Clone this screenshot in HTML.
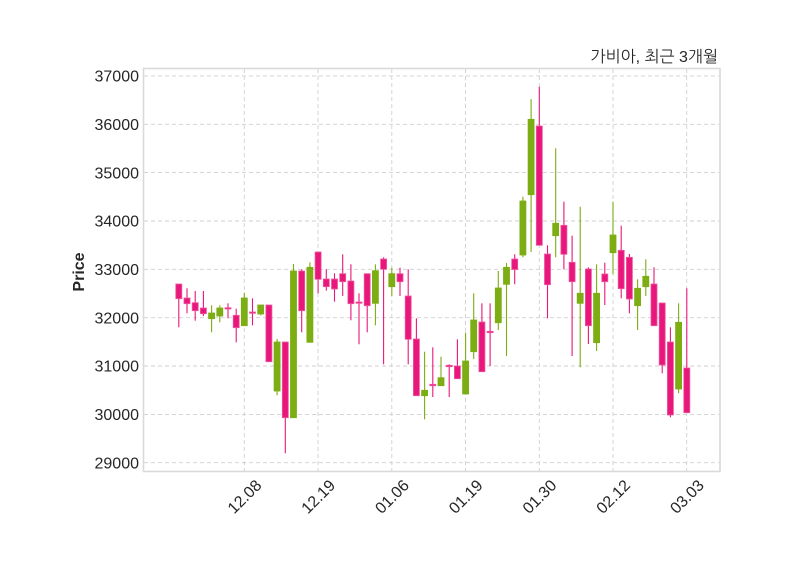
<!DOCTYPE html>
<html><head><meta charset="utf-8"><style>
html,body{margin:0;padding:0;background:#fff;}
svg{display:block;}
text{font-family:"Liberation Sans","NanumGothic","Noto Sans CJK KR",sans-serif;fill:#262626;}
.g{stroke:#cfcfcf;stroke-width:0.9;stroke-dasharray:4,3;fill:none;}
.up{fill:#7cad12;stroke:#7cad12;}
.dn{fill:#e8177c;stroke:#f0579f;}
.wu{stroke:#7cad12;stroke-width:1.1;}
.wd{stroke:#e8177c;stroke-width:1.1;}
</style></head><body>
<svg width="800" height="575" viewBox="0 0 800 575" xmlns="http://www.w3.org/2000/svg">
<rect x="0" y="0" width="800" height="575" fill="#fff"/>
<!-- grid -->
<g class="g">
<line x1="144" x2="720" y1="75.9" y2="75.9"/>
<line x1="144" x2="720" y1="124.3" y2="124.3"/>
<line x1="144" x2="720" y1="172.6" y2="172.6"/>
<line x1="144" x2="720" y1="221.0" y2="221.0"/>
<line x1="144" x2="720" y1="269.3" y2="269.3"/>
<line x1="144" x2="720" y1="317.7" y2="317.7"/>
<line x1="144" x2="720" y1="366.0" y2="366.0"/>
<line x1="144" x2="720" y1="414.4" y2="414.4"/>
<line x1="144" x2="720" y1="462.7" y2="462.7"/>
<line y1="69" y2="471" x1="244.3" x2="244.3"/>
<line y1="69" y2="471" x1="318.0" x2="318.0"/>
<line y1="69" y2="471" x1="391.8" x2="391.8"/>
<line y1="69" y2="471" x1="465.5" x2="465.5"/>
<line y1="69" y2="471" x1="539.3" x2="539.3"/>
<line y1="69" y2="471" x1="613.0" x2="613.0"/>
<line y1="69" y2="471" x1="686.7" x2="686.7"/>
</g>
<rect x="143.5" y="68.5" width="576.5" height="403" fill="none" stroke="#d9d9d9" stroke-width="1.6"/>

<!-- candles -->
<g stroke-width="0.8">
<line class="wd" x1="178.8" x2="178.8" y1="284" y2="327.3"/><rect class="dn" x="175.8" y="284" width="6" height="14.7"/>
<line class="wd" x1="187.0" x2="187.0" y1="288.3" y2="313.3"/><rect class="dn" x="184.0" y="298" width="6" height="5.7"/>
<line class="wd" x1="195.2" x2="195.2" y1="291" y2="320.7"/><rect class="dn" x="192.2" y="302.7" width="6" height="8"/>
<line class="wd" x1="203.4" x2="203.4" y1="291" y2="316"/><rect class="dn" x="200.4" y="308" width="6" height="5.7"/>
<line class="wu" x1="211.6" x2="211.6" y1="305.3" y2="332.3"/><rect class="up" x="208.6" y="313" width="6" height="5.7"/>
<line class="wu" x1="219.8" x2="219.8" y1="305.3" y2="322.3"/><rect class="up" x="216.8" y="308" width="6" height="8"/>
<line class="wd" x1="228.0" x2="228.0" y1="303.3" y2="318.3"/><rect class="dn" x="225.0" y="307.7" width="6" height="1.3"/>
<line class="wd" x1="236.2" x2="236.2" y1="308.7" y2="342.3"/><rect class="dn" x="233.2" y="315.3" width="6" height="12.4"/>
<line class="wu" x1="244.3" x2="244.3" y1="292.7" y2="325.7"/><rect class="up" x="241.3" y="298" width="6" height="27.7"/>
<line class="wd" x1="252.5" x2="252.5" y1="298.3" y2="325.3"/><rect class="dn" x="249.5" y="312" width="6" height="1.3"/>
<line class="wu" x1="260.7" x2="260.7" y1="305" y2="315.3"/><rect class="up" x="257.7" y="305" width="6" height="9"/>
<line class="wd" x1="268.9" x2="268.9" y1="305" y2="361.7"/><rect class="dn" x="265.9" y="305" width="6" height="56.7"/>
<line class="wu" x1="277.1" x2="277.1" y1="339" y2="395.3"/><rect class="up" x="274.1" y="342" width="6" height="49"/>
<line class="wd" x1="285.3" x2="285.3" y1="342" y2="453.3"/><rect class="dn" x="282.3" y="342" width="6" height="75.7"/>
<line class="wu" x1="293.5" x2="293.5" y1="264" y2="417.7"/><rect class="up" x="290.5" y="271" width="6" height="146.7"/>
<line class="wd" x1="301.7" x2="301.7" y1="269.3" y2="332.3"/><rect class="dn" x="298.7" y="271" width="6" height="39.7"/>
<line class="wu" x1="309.9" x2="309.9" y1="262.3" y2="342.3"/><rect class="up" x="306.9" y="267.3" width="6" height="75"/>
<line class="wd" x1="318.1" x2="318.1" y1="252" y2="293.3"/><rect class="dn" x="315.1" y="252" width="6" height="27.3"/>
<line class="wd" x1="326.3" x2="326.3" y1="269.3" y2="290.7"/><rect class="dn" x="323.3" y="279" width="6" height="7.7"/>
<line class="wd" x1="334.5" x2="334.5" y1="273.3" y2="301.7"/><rect class="dn" x="331.5" y="279" width="6" height="10"/>
<line class="wd" x1="342.7" x2="342.7" y1="254.3" y2="296"/><rect class="dn" x="339.7" y="273.7" width="6" height="8"/>
<line class="wd" x1="350.9" x2="350.9" y1="264.3" y2="320.3"/><rect class="dn" x="347.9" y="281" width="6" height="22.7"/>
<line class="wd" x1="359.0" x2="359.0" y1="293.3" y2="344.3"/><rect class="dn" x="356.0" y="302" width="6" height="1.3"/>
<line class="wd" x1="367.2" x2="367.2" y1="273.7" y2="332.3"/><rect class="dn" x="364.2" y="273.7" width="6" height="32"/>
<line class="wu" x1="375.4" x2="375.4" y1="264.3" y2="325.3"/><rect class="up" x="372.4" y="270.7" width="6" height="32.6"/>
<line class="wd" x1="383.6" x2="383.6" y1="257.3" y2="364.3"/><rect class="dn" x="380.6" y="259" width="6" height="10.3"/>
<line class="wu" x1="391.8" x2="391.8" y1="267.7" y2="296"/><rect class="up" x="388.8" y="273.7" width="6" height="13"/>
<line class="wd" x1="400.0" x2="400.0" y1="267.7" y2="296"/><rect class="dn" x="397.0" y="273.7" width="6" height="8"/>
<line class="wd" x1="408.2" x2="408.2" y1="269.3" y2="364.3"/><rect class="dn" x="405.2" y="296" width="6" height="43.3"/>
<line class="wd" x1="416.4" x2="416.4" y1="318.3" y2="395.7"/><rect class="dn" x="413.4" y="339" width="6" height="56.7"/>
<line class="wu" x1="424.6" x2="424.6" y1="351.7" y2="419.3"/><rect class="up" x="421.6" y="390.3" width="6" height="5.4"/>
<line class="wd" x1="432.8" x2="432.8" y1="347.3" y2="397"/><rect class="dn" x="429.8" y="384.3" width="6" height="1.4"/>
<line class="wu" x1="441.0" x2="441.0" y1="356.7" y2="385.7"/><rect class="up" x="438.0" y="377.7" width="6" height="8"/>
<line class="wd" x1="449.2" x2="449.2" y1="364.3" y2="397"/><rect class="dn" x="446.2" y="365.3" width="6" height="1.4"/>
<line class="wd" x1="457.4" x2="457.4" y1="339.3" y2="378.7"/><rect class="dn" x="454.4" y="366" width="6" height="12.7"/>
<line class="wu" x1="465.6" x2="465.6" y1="332.7" y2="394"/><rect class="up" x="462.6" y="361" width="6" height="33"/>
<line class="wu" x1="473.7" x2="473.7" y1="293.3" y2="359"/><rect class="up" x="470.7" y="320" width="6" height="31.7"/>
<line class="wd" x1="481.9" x2="481.9" y1="303.3" y2="371.7"/><rect class="dn" x="478.9" y="322" width="6" height="49.7"/>
<line class="wd" x1="490.1" x2="490.1" y1="303.3" y2="366"/><rect class="dn" x="487.1" y="331.3" width="6" height="1.4"/>
<line class="wu" x1="498.3" x2="498.3" y1="271" y2="330"/><rect class="up" x="495.3" y="288" width="6" height="34.7"/>
<line class="wu" x1="506.5" x2="506.5" y1="263" y2="356"/><rect class="up" x="503.5" y="267.3" width="6" height="17"/>
<line class="wd" x1="514.7" x2="514.7" y1="254.3" y2="284.3"/><rect class="dn" x="511.7" y="259" width="6" height="10.5"/>
<line class="wu" x1="522.9" x2="522.9" y1="196.7" y2="257.3"/><rect class="up" x="519.9" y="201" width="6" height="54"/>
<line class="wu" x1="531.1" x2="531.1" y1="99.3" y2="252"/><rect class="up" x="528.1" y="119.3" width="6" height="75.4"/>
<line class="wd" x1="539.3" x2="539.3" y1="86.7" y2="245.3"/><rect class="dn" x="536.3" y="126" width="6" height="119.3"/>
<line class="wd" x1="547.5" x2="547.5" y1="245.3" y2="318.3"/><rect class="dn" x="544.5" y="254" width="6" height="30.7"/>
<line class="wu" x1="555.7" x2="555.7" y1="148.3" y2="257.3"/><rect class="up" x="552.7" y="223.3" width="6" height="12.4"/>
<line class="wd" x1="563.9" x2="563.9" y1="201.7" y2="269.3"/><rect class="dn" x="560.9" y="225.3" width="6" height="29"/>
<line class="wd" x1="572.1" x2="572.1" y1="235.7" y2="356"/><rect class="dn" x="569.1" y="262.3" width="6" height="19.4"/>
<line class="wu" x1="580.2" x2="580.2" y1="206.7" y2="367.3"/><rect class="up" x="577.2" y="293.3" width="6" height="10"/>
<line class="wd" x1="588.4" x2="588.4" y1="267.3" y2="344"/><rect class="dn" x="585.4" y="269" width="6" height="56.7"/>
<line class="wu" x1="596.6" x2="596.6" y1="264.3" y2="351"/><rect class="up" x="593.6" y="293.3" width="6" height="49.4"/>
<line class="wd" x1="604.8" x2="604.8" y1="262.7" y2="305"/><rect class="dn" x="601.8" y="274" width="6" height="7.7"/>
<line class="wu" x1="613.0" x2="613.0" y1="201.7" y2="274"/><rect class="up" x="610.0" y="235" width="6" height="17.7"/>
<line class="wd" x1="621.2" x2="621.2" y1="225.7" y2="298.3"/><rect class="dn" x="618.2" y="250.3" width="6" height="38.4"/>
<line class="wd" x1="629.4" x2="629.4" y1="254" y2="313.3"/><rect class="dn" x="626.4" y="257.3" width="6" height="41.7"/>
<line class="wu" x1="637.6" x2="637.6" y1="279.3" y2="330"/><rect class="up" x="634.6" y="288.3" width="6" height="17.4"/>
<line class="wu" x1="645.8" x2="645.8" y1="259.3" y2="296"/><rect class="up" x="642.8" y="276.3" width="6" height="10.4"/>
<line class="wd" x1="654.0" x2="654.0" y1="267.3" y2="325.7"/><rect class="dn" x="651.0" y="284" width="6" height="41.7"/>
<line class="wd" x1="662.2" x2="662.2" y1="303" y2="373.3"/><rect class="dn" x="659.2" y="303" width="6" height="62"/>
<line class="wd" x1="670.4" x2="670.4" y1="327.3" y2="417.3"/><rect class="dn" x="667.4" y="342" width="6" height="73"/>
<line class="wu" x1="678.6" x2="678.6" y1="303.3" y2="393.3"/><rect class="up" x="675.6" y="322.3" width="6" height="66.7"/>
<line class="wd" x1="686.8" x2="686.8" y1="288.3" y2="412.7"/><rect class="dn" x="683.8" y="368" width="6" height="44.7"/>
</g>

<!-- y tick labels -->
<g font-size="16" text-anchor="end">
<text x="139" y="81.6">37000</text>
<text x="139" y="130.0">36000</text>
<text x="139" y="178.3">35000</text>
<text x="139" y="226.7">34000</text>
<text x="139" y="275.0">33000</text>
<text x="139" y="323.4">32000</text>
<text x="139" y="371.7">31000</text>
<text x="139" y="420.1">30000</text>
<text x="139" y="468.4">29000</text>
</g>
<text x="0" y="0" font-size="16" font-weight="bold" text-anchor="middle" transform="translate(84,272) rotate(-90)">Price</text>

<!-- x tick labels -->
<g font-size="16" text-anchor="middle">
<text transform="translate(244.3,496.5) rotate(-45)" y="5.7">12.08</text>
<text transform="translate(318.0,496.5) rotate(-45)" y="5.7">12.19</text>
<text transform="translate(391.8,496.5) rotate(-45)" y="5.7">01.06</text>
<text transform="translate(465.5,496.5) rotate(-45)" y="5.7">01.19</text>
<text transform="translate(539.3,496.5) rotate(-45)" y="5.7">01.30</text>
<text transform="translate(613.0,496.5) rotate(-45)" y="5.7">02.12</text>
<text transform="translate(686.7,496.5) rotate(-45)" y="5.7">03.03</text>
</g>

<!-- title -->
<text x="718" y="62" font-size="16" text-anchor="end" style="font-family:'Liberation Sans','NanumGothic','Noto Sans CJK KR',sans-serif;">가비아, 최근 3개월</text>
</svg>
</body></html>
